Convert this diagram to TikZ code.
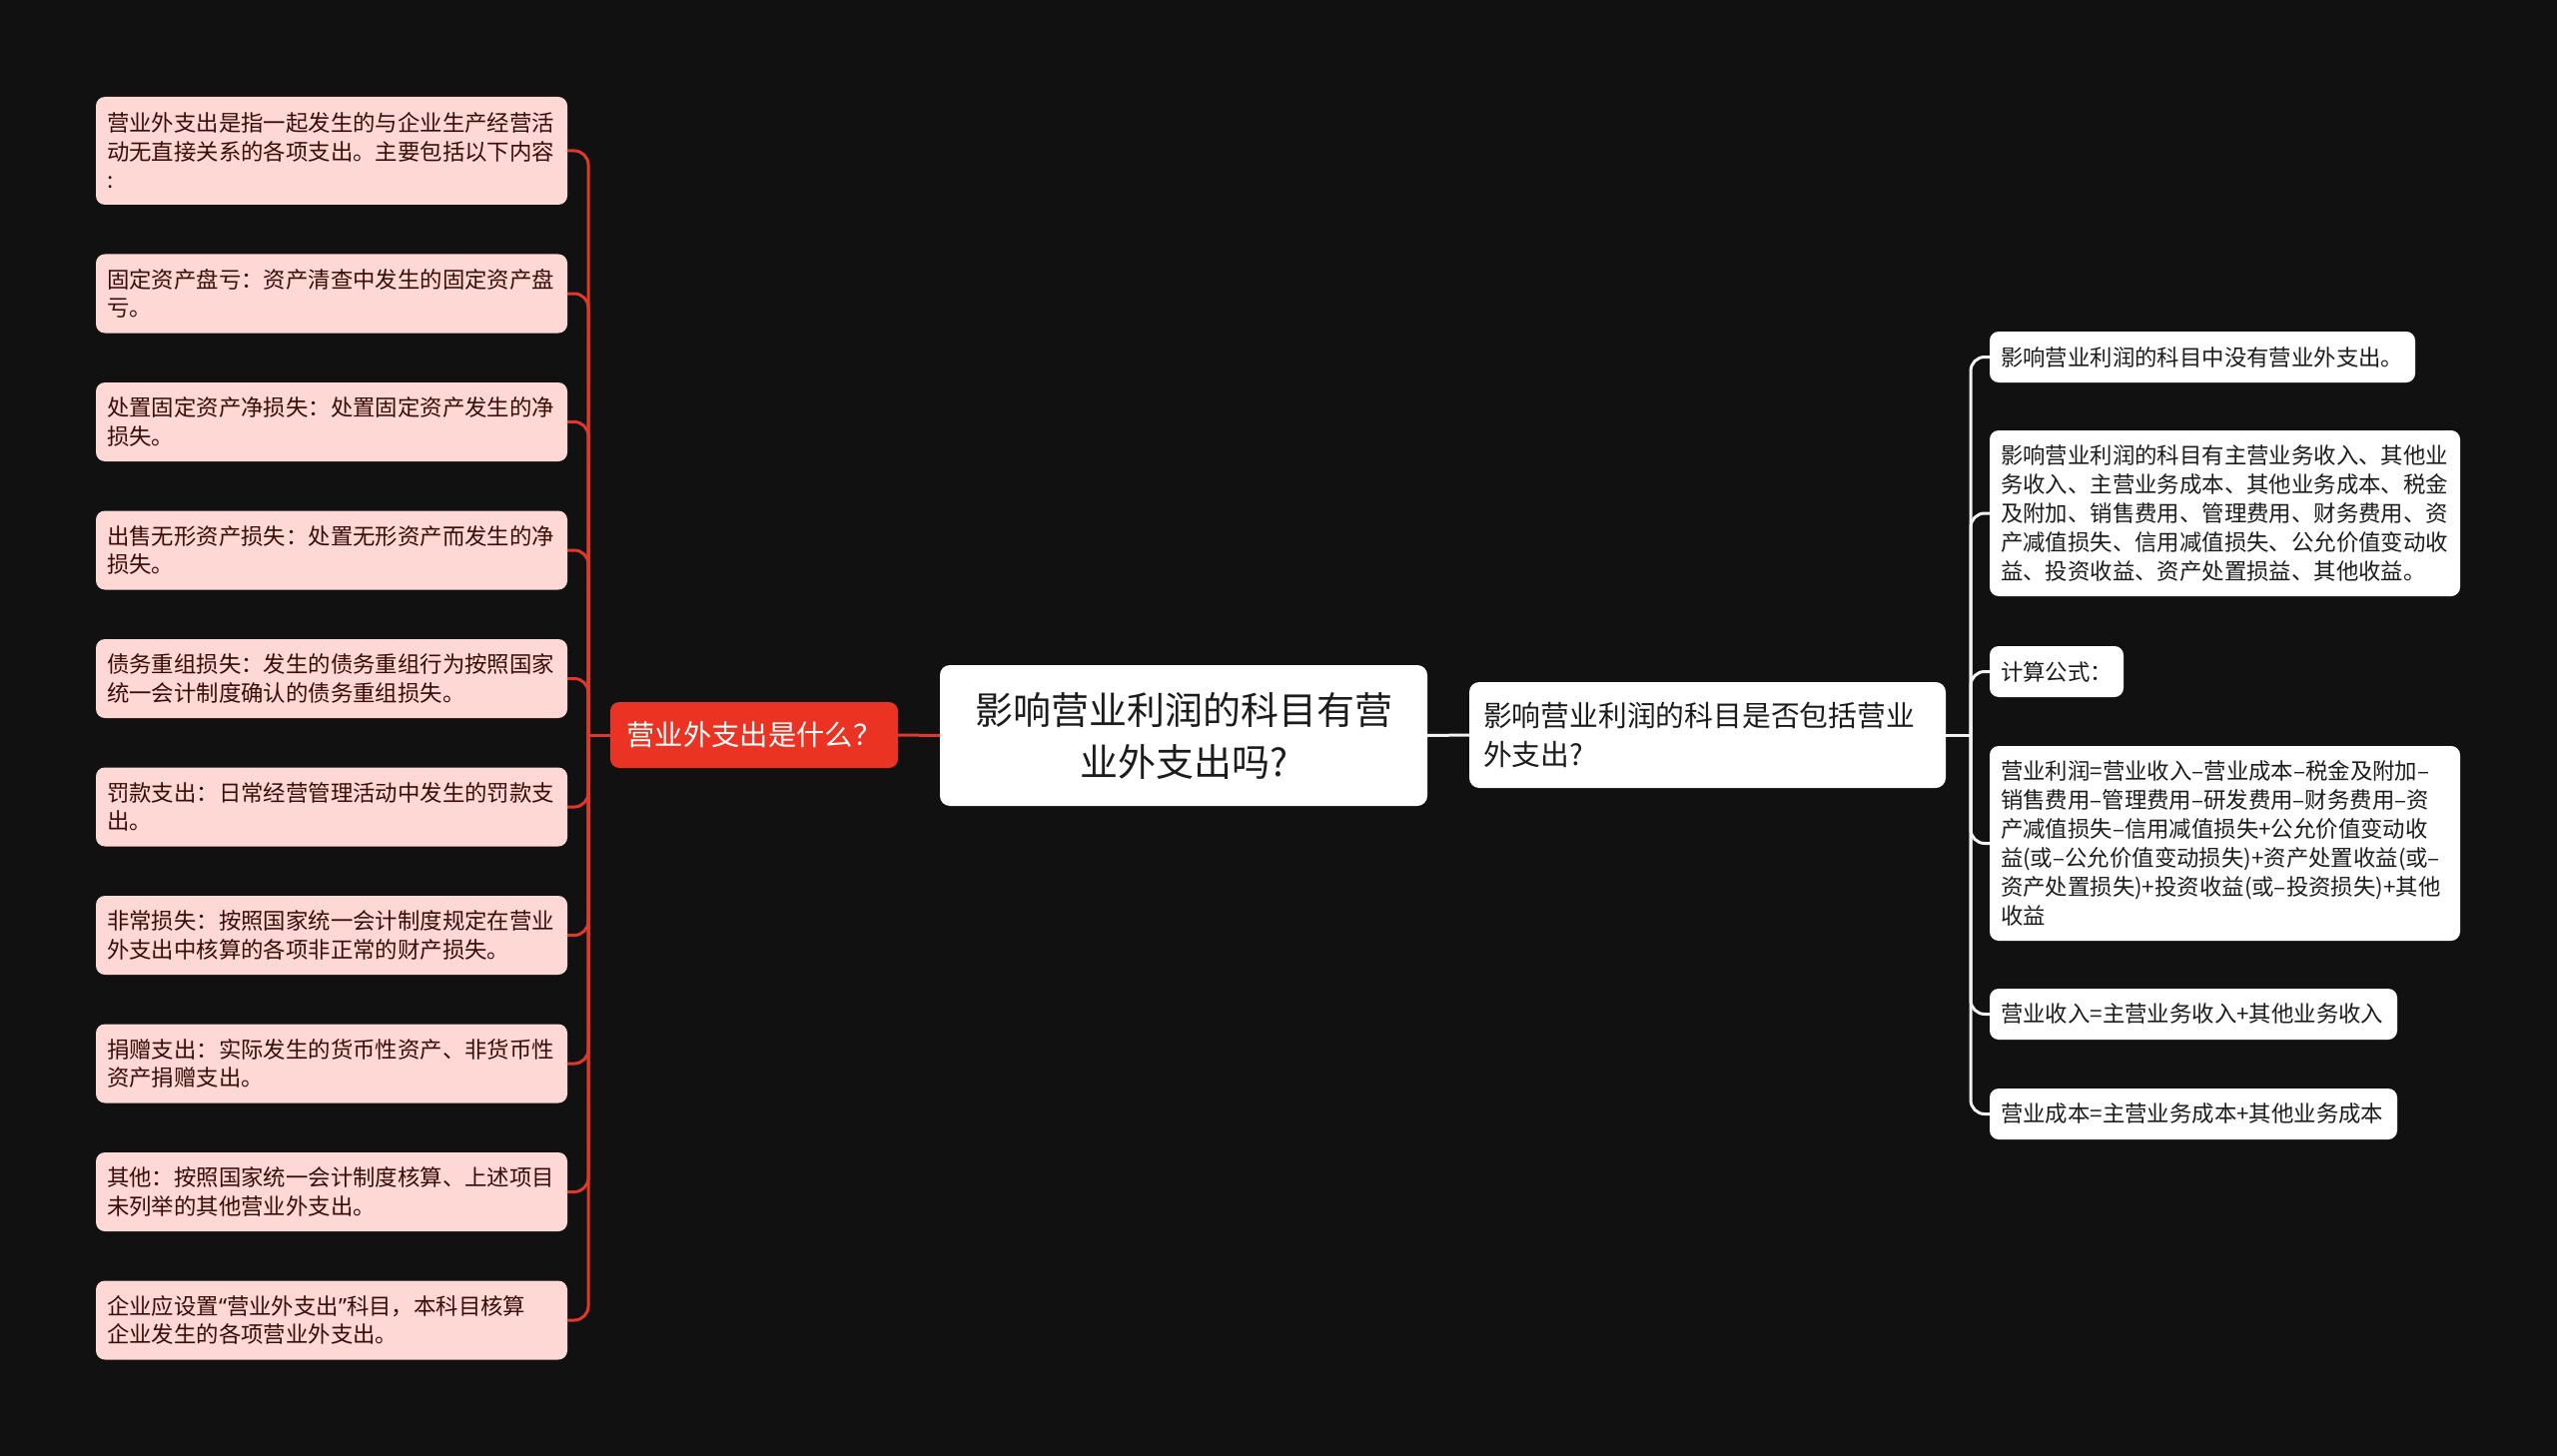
\documentclass[tikz,border=0pt]{standalone}
\usepackage{fontspec}
\setmainfont{Noto Sans CJK SC}
\newfontfamily\latinq{Noto Sans}
\definecolor{bgcol}{HTML}{111111}
\definecolor{leafpink}{HTML}{FDD8D4}
\definecolor{leaftext}{HTML}{3A0C08}
\definecolor{redfill}{HTML}{EA3322}
\definecolor{redline}{HTML}{E0382A}
\definecolor{darktext}{HTML}{1C1C1C}
\definecolor{whiteline}{HTML}{F2F2F2}
\begin{document}
\begin{tikzpicture}[x=1pt,y=-1pt,
  every node/.style={inner sep=0pt, outer sep=0pt},
  leafL/.style={fill=leafpink, text=leaftext, rounded corners=9pt,
    font=\fontsize{22.4}{28.5}\selectfont, align=left, inner xsep=11pt,
    text width=450pt, minimum width=472pt, minimum height=79pt},
  leafR/.style={fill=white, text=darktext, rounded corners=9pt,
    font=\fontsize{22.4}{29}\selectfont, align=left, inner xsep=11pt,
    anchor=west, minimum height=51pt},
  redbox/.style={fill=redfill, text=white, rounded corners=9pt,
    font=\fontsize{28.3}{36}\selectfont, align=center, inner xsep=16pt,
    text width=256pt, minimum height=66pt},
  centerbox/.style={fill=white, text=darktext, rounded corners=10pt,
    font=\fontsize{38}{52}\selectfont, align=center, inner xsep=14pt,
    text width=460pt, minimum height=141pt},
  levelbox/.style={fill=white, text=darktext, rounded corners=10pt,
    font=\fontsize{28.8}{39}\selectfont, align=left, inner xsep=14pt,
    text width=449pt, minimum height=106pt},
  redconn/.style={draw=redline, line width=3pt},
  whiteconn/.style={draw=whiteline, line width=3pt},
]
\fill[bgcol] (0,0) rectangle (2560,1458);
\useasboundingbox (0,0) rectangle (2560,1458);

% central and level-1 nodes
\node[centerbox] (c) at (1185,736.5) {影响营业利润的科目有营\\业外支出吗?};
\node[redbox] (red) at (755,736) {营业外支出是什么？};
\node[levelbox] (q) at (1709.5,736) {影响营业利润的科目是否包括营业\\外支出?};

% left leaves
\node[leafL, minimum height=108pt] (l1) at (332,151) {营业外支出是指一起发生的与企业生产经营活\\动无直接关系的各项支出。主要包括以下内容\\:};
\node[leafL] (l2) at (332,294) {固定资产盘亏：资产清查中发生的固定资产盘\\亏。};
\node[leafL] (l3) at (332,422.5) {处置固定资产净损失：处置固定资产发生的净\\损失。};
\node[leafL] (l4) at (332,551) {出售无形资产损失：处置无形资产而发生的净\\损失。};
\node[leafL] (l5) at (332,679.5) {债务重组损失：发生的债务重组行为按照国家\\统一会计制度确认的债务重组损失。};
\node[leafL] (l6) at (332,808) {罚款支出：日常经营管理活动中发生的罚款支\\出。};
\node[leafL] (l7) at (332,936.5) {非常损失：按照国家统一会计制度规定在营业\\外支出中核算的各项非正常的财产损失。};
\node[leafL] (l8) at (332,1065) {捐赠支出：实际发生的货币性资产、非货币性\\资产捐赠支出。};
\node[leafL] (l9) at (332,1193.5) {其他：按照国家统一会计制度核算、上述项目\\未列举的其他营业外支出。};
\node[leafL] (l10) at (332,1322) {企业应设置{\latinq “}营业外支出{\latinq ”}科目，本科目核算\\企业发生的各项营业外支出。};

% right leaves
\node[leafR, text width=404pt] (r1) at (1992,357.5) {影响营业利润的科目中没有营业外支出。};
\node[leafR, text width=449pt, minimum height=166pt] (r2) at (1992,514) {影响营业利润的科目有主营业务收入、其他业\\务收入、主营业务成本、其他业务成本、税金\\及附加、销售费用、管理费用、财务费用、资\\产减值损失、信用减值损失、公允价值变动收\\益、投资收益、资产处置损益、其他收益。};
\node[leafR, text width=112pt] (r3) at (1992,672.5) {计算公式：};
\node[leafR, text width=449pt, minimum height=195pt] (r4) at (1992,844.5) {营业利润=营业收入–营业成本–税金及附加–\\销售费用–管理费用–研发费用–财务费用–资\\产减值损失–信用减值损失+公允价值变动收\\益(或–公允价值变动损失)+资产处置收益(或–\\资产处置损失)+投资收益(或–投资损失)+其他\\收益};
\node[leafR, text width=386pt] (r5) at (1992,1015.5) {营业收入=主营业务收入+其他业务收入};
\node[leafR, text width=386pt] (r6) at (1992,1115.5) {营业成本=主营业务成本+其他业务成本};

% connectors
\coordinate (lj) at (589,736);
\coordinate (rj) at (1973,736);
\draw[redconn] (c.west) -- (red.east);
\draw[redconn] (red.west) -- (lj);
\foreach \n in {l1,l2,l3,l4,l5,l6,l7,l8,l9,l10}
  \draw[redconn, rounded corners=14pt] (lj) |- (\n.east);
\draw[whiteconn] (c.east) -- (q.west);
\draw[whiteconn] (q.east) -- (rj);
\foreach \n in {r1,r2,r3,r4,r5,r6}
  \draw[whiteconn, rounded corners=14pt] (rj) |- (\n.west);
\end{tikzpicture}
\end{document}
